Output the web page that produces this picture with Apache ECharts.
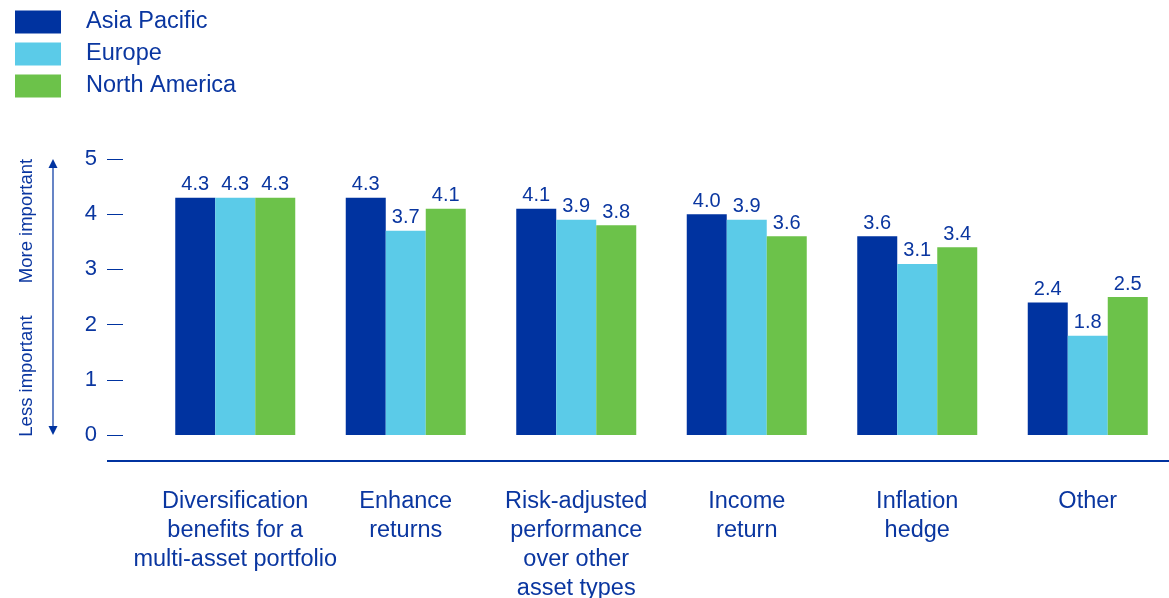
<!DOCTYPE html>
<html>
<head>
<meta charset="utf-8">
<script src="https://cdn.jsdelivr.net/npm/echarts@6/dist/echarts.min.js"></script>
<style>
  html, body { margin: 0; padding: 0; background: #fff; overflow: hidden; }
  #chart { width: 1169px; height: 598px; }
</style>
</head>
<body>
<div id="chart"></div>
<script>
// Reasons for investing, average importance score by region
const categories = [
  'Diversification\nbenefits for a\nmulti-asset portfolio',
  'Enhance\nreturns',
  'Risk-adjusted\nperformance\nover other\nasset types',
  'Income\nreturn',
  'Inflation\nhedge',
  'Other'
];
const asiaPacific  = [4.3, 4.3, 4.1, 4.0, 3.6, 2.4];
const europe       = [4.3, 3.7, 3.9, 3.9, 3.1, 1.8];
const northAmerica = [4.3, 4.1, 3.8, 3.6, 3.4, 2.5];
const seriesNames  = ['Asia Pacific', 'Europe', 'North America'];
const yTicks = { min: 0, max: 5, interval: 1 };

const NAVY = '#0033a0';
const TEXT = '#0a36a0';
const FONT = '"Liberation Sans", Arial, sans-serif';

const chart = echarts.init(document.getElementById('chart'));

function barSeries(name, data, color) {
  return {
    name: name,
    type: 'bar',
    data: data,
    barWidth: 40,
    barGap: '0%',
    itemStyle: { color: color },
    label: {
      show: true,
      position: 'top',
      distance: 3,
      color: TEXT,
      fontFamily: FONT,
      fontSize: 20,
      formatter: p => p.value.toFixed(1)
    }
  };
}

chart.setOption({
  animation: false,
  textStyle: { fontFamily: FONT },
  legend: {
    orient: 'vertical',
    left: 15,
    top: 10,
    padding: 0,
    itemWidth: 46,
    itemHeight: 23,
    itemGap: 8,
    icon: 'rect',
    selectedMode: false,
    textStyle: { color: TEXT, fontSize: 23.5, lineHeight: 23, fontFamily: FONT, padding: [0, 0, 0, 20] },
    data: seriesNames
  },
  grid: { left: 150, width: 1023, top: 159, height: 276, containLabel: false, outerBoundsMode: 'none' },
  xAxis: {
    type: 'category',
    data: categories,
    axisLine: { show: false },
    axisTick: { show: false },
    axisLabel: {
      interval: 0,
      margin: 52,
      color: TEXT,
      fontSize: 23.5,
      lineHeight: 29,
      fontFamily: FONT
    }
  },
  yAxis: {
    type: 'value',
    min: yTicks.min,
    max: yTicks.max,
    interval: yTicks.interval,
    offset: 27,
    splitLine: { show: false },
    axisLine: { show: false },
    axisTick: { show: true, length: 16, lineStyle: { color: NAVY, width: 1 } },
    axisLabel: { margin: 26, color: TEXT, fontSize: 22, fontFamily: FONT }
  },
  graphic: [
    // baseline below the bars
    { type: 'line', shape: { x1: 107, y1: 461, x2: 1169, y2: 461 },
      style: { stroke: NAVY, lineWidth: 2 }, silent: true },
    // importance arrow
    { type: 'line', shape: { x1: 53, y1: 166, x2: 53, y2: 428 },
      style: { stroke: NAVY, lineWidth: 1.2 }, silent: true },
    { type: 'polygon', shape: { points: [[53, 159], [48.5, 168], [57.5, 168]] },
      style: { fill: NAVY }, silent: true },
    { type: 'polygon', shape: { points: [[53, 435], [48.5, 426], [57.5, 426]] },
      style: { fill: NAVY }, silent: true },
    { type: 'text', x: 27, y: 221, rotation: Math.PI / 2,
      style: { text: 'More important', fill: TEXT, font: '18.5px ' + FONT,
               textAlign: 'center', textVerticalAlign: 'middle' }, silent: true },
    { type: 'text', x: 27, y: 376, rotation: Math.PI / 2,
      style: { text: 'Less important', fill: TEXT, font: '18.5px ' + FONT,
               textAlign: 'center', textVerticalAlign: 'middle' }, silent: true }
  ],
  series: [
    barSeries(seriesNames[0], asiaPacific, NAVY),
    barSeries(seriesNames[1], europe, '#5bcbe8'),
    barSeries(seriesNames[2], northAmerica, '#6cc24a')
  ]
});
</script>
</body>
</html>
